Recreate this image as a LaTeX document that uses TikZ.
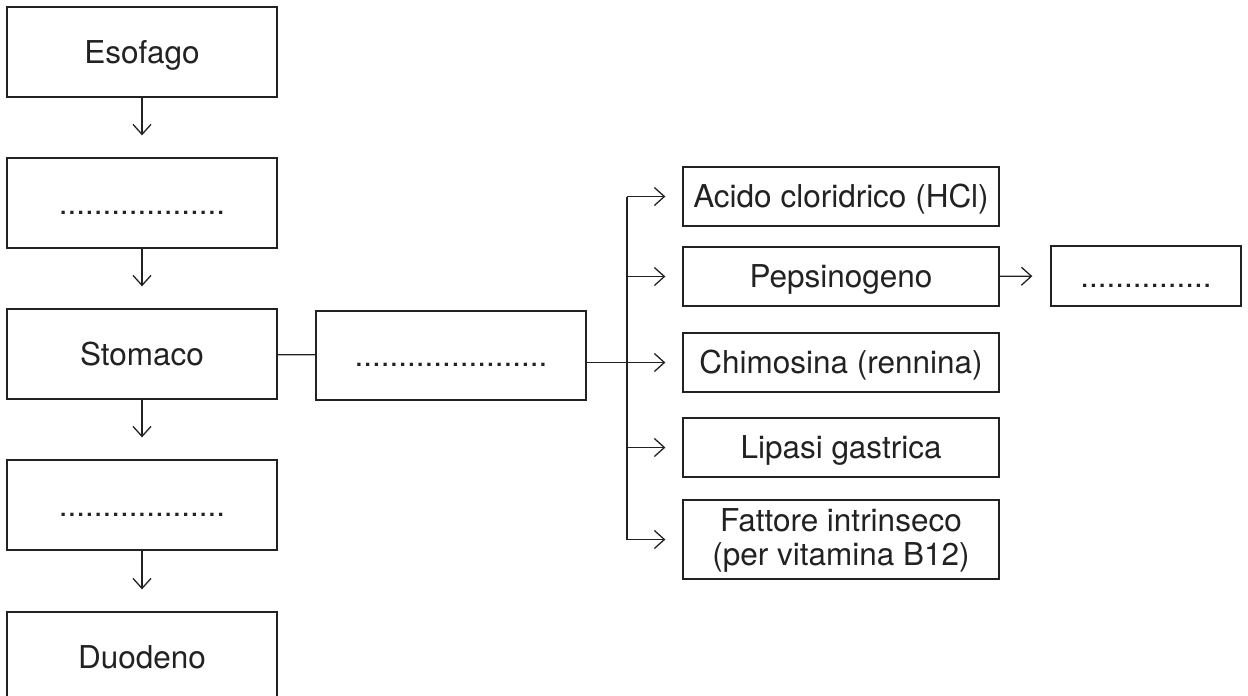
\documentclass[tikz,border=0pt]{standalone}
\usepackage{fontspec}
\setmainfont{TeX Gyre Heros}
\usetikzlibrary{arrows.meta,positioning}
\definecolor{ink}{HTML}{222222}

\begin{document}
\begin{tikzpicture}[x=1pt,y=-1pt,
  organ/.style={draw=ink,line width=1.3pt,minimum width=270pt,minimum height=90pt,
                inner sep=0pt,text=ink,align=center,
                font=\fontsize{31.5}{34}\selectfont,text height=28pt,text depth=6pt},
  secr/.style={organ,minimum width=316pt,minimum height=59pt},
  flow/.style={-{Straight Barb[length=10pt,width=18pt]},draw=ink,line width=1.3pt},
  link/.style={draw=ink,line width=1.3pt}
]
\useasboundingbox (0,0) rectangle (1248,696);
\node[organ] (eso) at (142,52) {Esofago};
\node[organ] (dotA) at (142,203) {...................};
\node[organ] (stom) at (142,354) {Stomaco};
\node[organ] (dotB) at (142,505) {...................};
\node[organ] (duo) at (142,657) {Duodeno};
\node[organ,minimum height=89pt] (juice) at (451,355.5) {......................};
\node[secr] (hcl) at (841,196.5) {Acido cloridrico (HCl)};
\node[secr] (pep) at (841,276.5) {Pepsinogeno};
\node[secr] (chim) at (841,362.5) {Chimosina (rennina)};
\node[secr] (lip) at (841,447.5) {Lipasi gastrica};
\node[secr,minimum height=79pt,text height=58pt] (fatt) at (841,539.5)
  {Fattore intrinseco\\(per vitamina B12)};
\node[organ,minimum width=190pt,minimum height=60pt] (pepout) at (1146,276) {...............};
\coordinate (bus) at (627,364);
\foreach \a/\b in {eso/dotA,dotA/stom,stom/dotB,dotB/duo}
  \draw[flow,shorten >=22pt] (\a) -- (\b);
\draw[link] (stom) -- (juice);
\draw[flow,shorten >=17pt] (juice.east |- chim.west) -- (chim.west);
\draw[link] (bus |- hcl.west) -- (bus |- fatt.west);
\foreach \n in {hcl,pep,lip,fatt}
  \draw[flow,shorten >=17pt] (bus |- \n.west) -- (\n.west);
\draw[flow,shorten >=18pt] (pep) -- (pepout);
\end{tikzpicture}
\end{document}
